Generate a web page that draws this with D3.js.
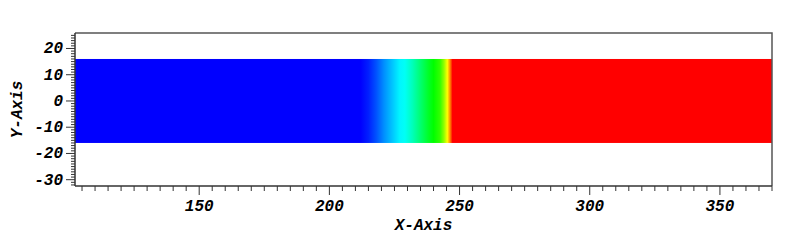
<!DOCTYPE html>
<html>
<head>
<meta charset="utf-8">
<script src="https://cdn.jsdelivr.net/npm/d3@7"></script>
<style>
body { margin: 0; background: #fff; }
text { font-family: "Liberation Mono", "DejaVu Sans Mono", monospace; font-weight: bold; font-style: italic; }
</style>
</head>
<body>
<div id="chart"></div>
<script>
// profile: x position -> normalised value (0 = blue, 1 = red)
var profileX = [102, 212, 215, 218, 221, 224, 227, 229, 232, 235, 238, 240, 242.5, 244, 245.3, 246.3, 247.3, 370];
var profileV = [0, 0, 0.03, 0.08, 0.14, 0.19, 0.24, 0.26, 0.32, 0.39, 0.46, 0.5, 0.55, 0.64, 0.75, 0.86, 1, 1];
var bandY = [-16, 16];
var xTicks = [150, 200, 250, 300, 350];
var yTicks = [-30, -20, -10, 0, 10, 20];
var xDomain = [102.3, 370];
var yDomain = [-32.4, 25.9];

var w = 800, h = 244;
var margins = {top: 33, right: 28, bottom: 58, left: 75};

var x = d3.scaleLinear().domain(xDomain).range([margins.left, w - margins.right]);
var y = d3.scaleLinear().domain(yDomain).range([h - margins.bottom, margins.top]);
var color = d3.scaleLinear()
  .domain([0, 0.25, 0.5, 0.75, 1])
  .range(["#0000ff", "#00ffff", "#00ff00", "#ffff00", "#ff0000"]);

var svg = d3.select("#chart").append("svg").attr("width", w).attr("height", h);

var grad = svg.append("defs").append("linearGradient")
  .attr("id", "prof")
  .attr("gradientUnits", "userSpaceOnUse")
  .attr("x1", x(xDomain[0])).attr("x2", x(xDomain[1]))
  .attr("y1", 0).attr("y2", 0);
grad.selectAll("stop")
  .data(profileX)
  .enter().append("stop")
  .attr("offset", function(d) { return (x(d) - x(xDomain[0])) / (x(xDomain[1]) - x(xDomain[0])); })
  .attr("stop-color", function(d, i) { return color(profileV[i]); });

svg.append("rect")
  .attr("x", x(xDomain[0]))
  .attr("width", x(xDomain[1]) - x(xDomain[0]))
  .attr("y", y(bandY[1]))
  .attr("height", y(bandY[0]) - y(bandY[1]))
  .attr("fill", "url(#prof)");

// frame top + right
svg.append("path")
  .attr("d", "M" + x(xDomain[0]) + "," + y(yDomain[1]) + "H" + x(xDomain[1]) + "V" + y(yDomain[0]))
  .attr("fill", "none").attr("stroke", "#555").attr("stroke-width", 1.5);

// x axis
var xMinor = d3.range(105, 371, 5);
var gx = svg.append("g").attr("transform", "translate(0," + y(yDomain[0]) + ")");
gx.append("line").attr("x1", x(xDomain[0])).attr("x2", x(xDomain[1])).attr("stroke", "#333").attr("stroke-width", 1.5);
gx.selectAll(".mn").data(xMinor).enter().append("line")
  .attr("x1", function(d) { return x(d); }).attr("x2", function(d) { return x(d); })
  .attr("y1", 0).attr("y2", function(d) { return d % 50 == 0 ? 9 : 5; })
  .attr("stroke", "#333");
gx.selectAll(".lb").data(xTicks).enter().append("text")
  .attr("x", function(d) { return x(d); }).attr("y", 25)
  .attr("text-anchor", "middle").attr("font-size", 16)
  .text(function(d) { return d; });

// y axis
var yMinor = d3.range(-32, 26, 1);
var gy = svg.append("g").attr("transform", "translate(" + x(xDomain[0]) + ",0)");
gy.append("line").attr("y1", y(yDomain[0])).attr("y2", y(yDomain[1])).attr("stroke", "#333").attr("stroke-width", 1.5);
gy.selectAll(".mn").data(yMinor).enter().append("line")
  .attr("y1", function(d) { return y(d); }).attr("y2", function(d) { return y(d); })
  .attr("x1", 0).attr("x2", function(d) { return d % 10 == 0 ? -9 : -4; })
  .attr("stroke", "#333");
gy.selectAll(".lb").data(yTicks).enter().append("text")
  .attr("x", -12).attr("y", function(d) { return y(d) + 5; })
  .attr("text-anchor", "end").attr("font-size", 16)
  .text(function(d) { return d; });

// axis titles
svg.append("text").attr("x", (x(xDomain[0]) + x(xDomain[1])) / 2).attr("y", 230)
  .attr("text-anchor", "middle").attr("font-size", 16).text("X-Axis");
svg.append("text")
  .attr("transform", "translate(22," + ((y(yDomain[0]) + y(yDomain[1])) / 2) + ") rotate(-90)")
  .attr("text-anchor", "middle").attr("font-size", 16).text("Y-Axis");
</script>
</body>
</html>
